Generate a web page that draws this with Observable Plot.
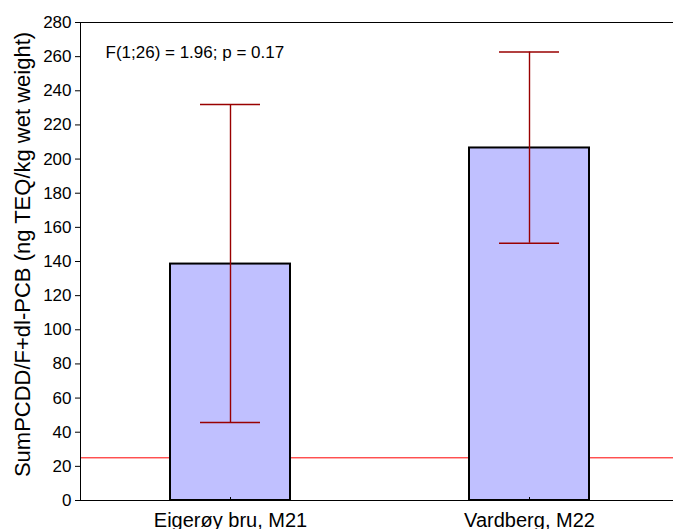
<!DOCTYPE html>
<html>
<head>
<meta charset="utf-8">
<script src="https://cdn.jsdelivr.net/npm/d3@7"></script>
<script src="https://cdn.jsdelivr.net/npm/@observablehq/plot@0.6"></script>
<style>
  html, body { margin: 0; padding: 0; background: #fff; }
  #chart svg { display: block; }
</style>
</head>
<body>
<div id="chart"></div>
<script>
const sites = ["Eigerøy bru, M21", "Vardberg, M22"];
const means = [138.5, 206.5];
const lower = [45.7, 150.7];
const upper = [232, 262.7];
const referenceLevel = 25;
const yTicks = d3.range(0, 281, 20);
const annotation = "F(1;26) = 1.96; p = 0.17";
const yLabel = "SumPCDD/F+dl-PCB (ng TEQ/kg wet weight)";

const data = sites.map((s, i) => ({site: s, mean: means[i], lo: lower[i], hi: upper[i]}));

const font = "'Liberation Sans', Arial, sans-serif";

const chart = Plot.plot({
  width: 673,
  height: 529,
  marginLeft: 80,
  marginRight: 0,
  marginTop: 22,
  marginBottom: 29,
  style: {fontFamily: font, color: "#000", background: "#fff"},
  x: {type: "band", domain: sites, range: [80, 678], paddingInner: 0.6, paddingOuter: 0.3, label: null},
  y: {domain: [0, 280], ticks: yTicks, label: null},
  marks: [
    Plot.ruleY([referenceLevel], {stroke: "#ff0000", strokeWidth: 1}),
    Plot.barY(data, {x: "site", y: "mean", fill: "#c0c0ff", stroke: "#000", strokeWidth: 2}),
    Plot.ruleX(data, {x: "site", y1: "lo", y2: "hi", stroke: "#990000", strokeWidth: 1.4}),
    Plot.tickY(data, {x: "site", y: "lo", stroke: "#990000", strokeWidth: 1.6, insetLeft: 30, insetRight: 30}),
    Plot.tickY(data, {x: "site", y: "hi", stroke: "#990000", strokeWidth: 1.6, insetLeft: 30, insetRight: 30}),
    Plot.axisY({ticks: yTicks, tickSize: 5, tickPadding: 4, fontSize: 17, label: null}),
    Plot.axisX({tickSize: 0, tickPadding: 12, fontSize: 20, label: null}),
    Plot.axisX({tickSize: -3, text: null, label: null, stroke: "#000"}),
    Plot.ruleY([0], {stroke: "#000", strokeWidth: 1}),
    Plot.ruleY([280], {stroke: "#000", strokeWidth: 1}),
    Plot.frame({anchor: "left", stroke: "#000"}),
    Plot.text([annotation], {frameAnchor: "top-left", text: d => d, textAnchor: "start", lineAnchor: "top", dx: 25, dy: 23, fontSize: 17}),
    Plot.text([yLabel], {frameAnchor: "left", text: d => d, rotate: -90, dx: -58, dy: -7, fontSize: 22, textAnchor: "middle"})
  ]
});
document.getElementById("chart").append(chart);
</script>
</body>
</html>
